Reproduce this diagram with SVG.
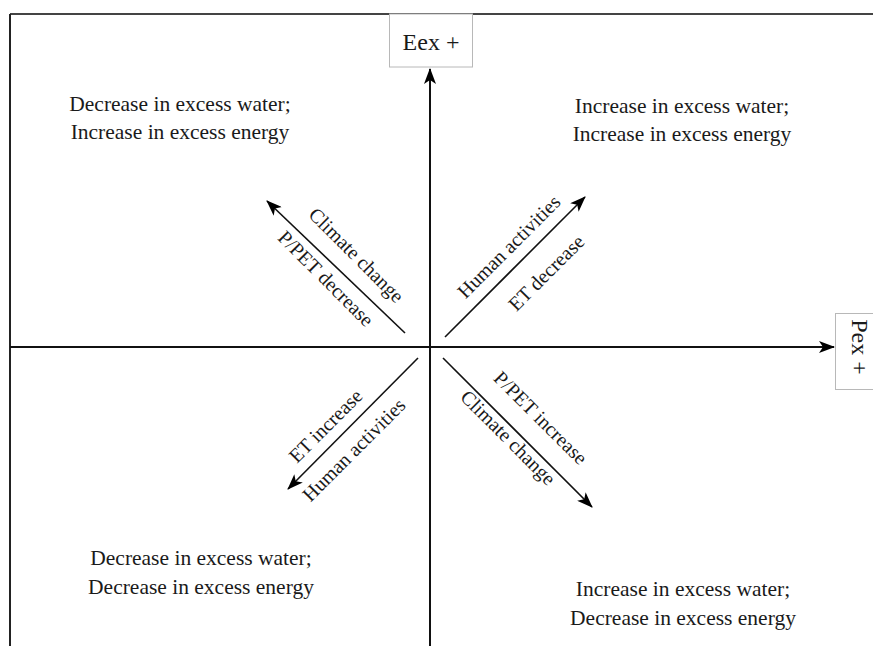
<svg xmlns="http://www.w3.org/2000/svg" width="873" height="646" viewBox="0 0 873 646">
<style>
.t{font-family:"Liberation Serif","Times New Roman",serif;fill:#1a1a1a;}
.q{font-size:21.5px;text-anchor:middle;}
.d{font-size:20px;text-anchor:middle;}
.ax{stroke:#111;stroke-width:2;fill:none;}
.ar{stroke:#111;stroke-width:1.6;fill:none;}
.box{fill:#fff;stroke:#b8b8b8;stroke-width:1;}
</style>
<defs>
<marker id="ah" viewBox="0 0 16 12" refX="15" refY="6" markerWidth="16" markerHeight="12" markerUnits="userSpaceOnUse" orient="auto">
<path d="M0,0 L16,6 L0,12 L4,6 Z" fill="#000"/>
</marker>
</defs>
<rect width="873" height="646" fill="#fff"/>
<g id="frame">
<line x1="10" y1="14" x2="873" y2="14" stroke="#444" stroke-width="2"/>
<line x1="10" y1="14" x2="10" y2="646" stroke="#222" stroke-width="2"/>
</g>
<g id="connectors">
<line class="ax" x1="10" y1="347" x2="834" y2="347" marker-end="url(#ah)"/>
<line class="ax" x1="430" y1="646" x2="430" y2="69" marker-end="url(#ah)"/>
<line class="ar" x1="405" y1="333" x2="267" y2="201" marker-end="url(#ah)"/>
<line class="ar" x1="445" y1="337" x2="585" y2="197" marker-end="url(#ah)"/>
<line class="ar" x1="418" y1="358" x2="288" y2="489" marker-end="url(#ah)"/>
<line class="ar" x1="443" y1="358" x2="592" y2="507" marker-end="url(#ah)"/>
</g>
<g id="eex">
<rect class="box" x="389.5" y="14" width="83" height="53"/>
<text class="t" x="431" y="50" font-size="24" text-anchor="middle">Eex +</text>
</g>
<g id="pex">
<rect class="box" x="835.5" y="313.5" width="40" height="76"/>
<text class="t" transform="translate(852,347) rotate(90)" font-size="24" text-anchor="middle">Pex +</text>
</g>
<g id="q-ul">
<text class="t q" x="180" y="111">Decrease in excess water;</text>
<text class="t q" x="180" y="139">Increase in excess energy</text>
</g>
<g id="q-ur">
<text class="t q" x="682" y="113">Increase in excess water;</text>
<text class="t q" x="682" y="141">Increase in excess energy</text>
</g>
<g id="q-ll">
<text class="t q" x="201" y="565">Decrease in excess water;</text>
<text class="t q" x="201" y="594">Decrease in excess energy</text>
</g>
<g id="q-lr">
<text class="t q" x="683" y="596">Increase in excess water;</text>
<text class="t q" x="683" y="625">Decrease in excess energy</text>
</g>
<g id="lbl-ul" transform="translate(336,267) rotate(45)">
<text class="t d" x="6" y="-16">Climate change</text>
<text class="t d" x="1" y="22">P/PET decrease</text>
</g>
<g id="lbl-ur" transform="translate(515,267) rotate(-45)">
<text class="t d" x="10" y="-12">Human activities</text>
<text class="t d" x="18" y="33">ET decrease</text>
</g>
<g id="lbl-ll" transform="translate(353,423.5) rotate(-45)">
<text class="t d" x="-21" y="-11">ET increase</text>
<text class="t d" x="-18" y="26">Human activities</text>
</g>
<g id="lbl-lr" transform="translate(517.5,432.5) rotate(45)">
<text class="t d" x="6" y="-20">P/PET increase</text>
<text class="t d" x="-3" y="17">Climate change</text>
</g>
</svg>
